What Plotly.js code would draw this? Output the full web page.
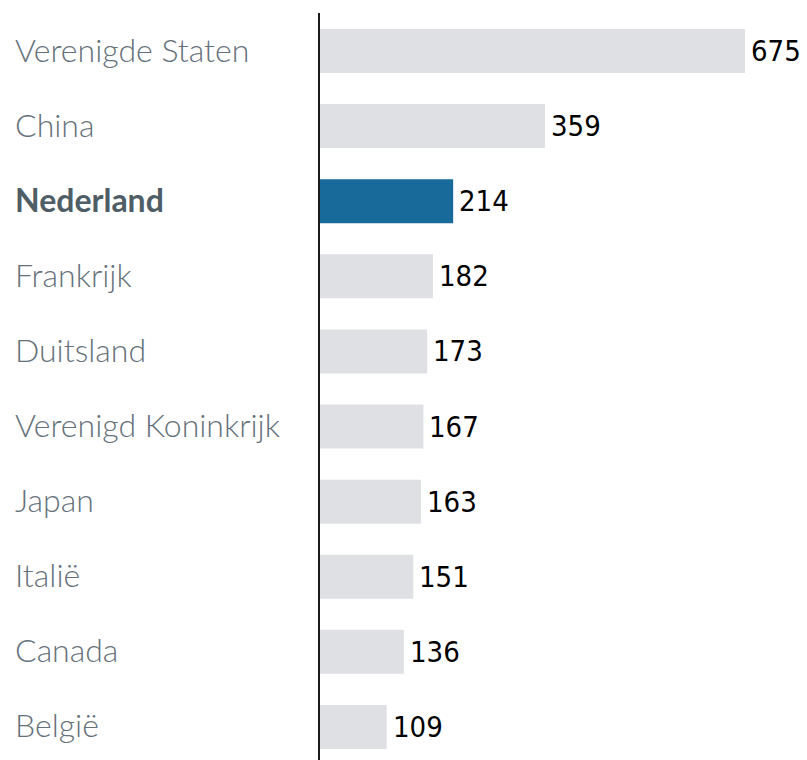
<!DOCTYPE html>
<html>
<head>
<meta charset="utf-8">
<script src="https://cdn.plot.ly/plotly-3.0.1.min.js"></script>
<style>html,body{margin:0;padding:0;background:#fff;}#chart{width:807px;height:760px;}</style>
</head>
<body>
<div id="chart"></div>
<script>
const categories = ["Verenigde Staten","China","Nederland","Frankrijk","Duitsland","Verenigd Koninkrijk","Japan","Italië","Canada","België"];
const values = [675,359,214,182,173,167,163,151,136,109];
const highlight = "Nederland";

const colors = categories.map(c => c === highlight ? "#176a9a" : "#dfe0e4");
const idx = categories.map((c,i)=>i);

const data = [{
  type: "bar",
  orientation: "h",
  x: values,
  y: idx,
  width: 0.586,
  marker: {color: colors, line: {width: 0}},
  hoverinfo: "none"
}];

const annotations = [];
categories.forEach((c,i)=>{
  const hl = c === highlight;
  annotations.push({
    xref: "paper", yref: "y", x: (13-320)/487, y: i, yshift: 2,
    xanchor: "left", yanchor: "middle", showarrow: false,
    text: c,
    font: {family: "Lato", size: 32, color: hl ? "#4f5d66" : "#65717a", weight: hl ? 700 : 300}
  });
  annotations.push({
    xref: "x", yref: "y", x: values[i], y: i,
    xanchor: "left", yanchor: "middle", showarrow: false, xshift: 4,
    text: String(values[i]),
    font: {family: "DejaVu Sans Condensed", size: 29, color: "#000"}
  });
});

const layout = {
  width: 807, height: 760,
  margin: {l: 320, r: 0, t: 13, b: 0, pad: 0},
  paper_bgcolor: "#fff", plot_bgcolor: "#fff",
  showlegend: false,
  xaxis: {range: [3.63, 773], visible: false, fixedrange: true},
  yaxis: {range: [9.44, -0.506], showticklabels: false, ticks: "", showgrid: false, zeroline: false,
          showline: true, linecolor: "#1a1a1a", linewidth: 2, fixedrange: true},
  annotations: annotations
};

Plotly.newPlot("chart", data, layout, {staticPlot: true});
</script>
</body>
</html>
